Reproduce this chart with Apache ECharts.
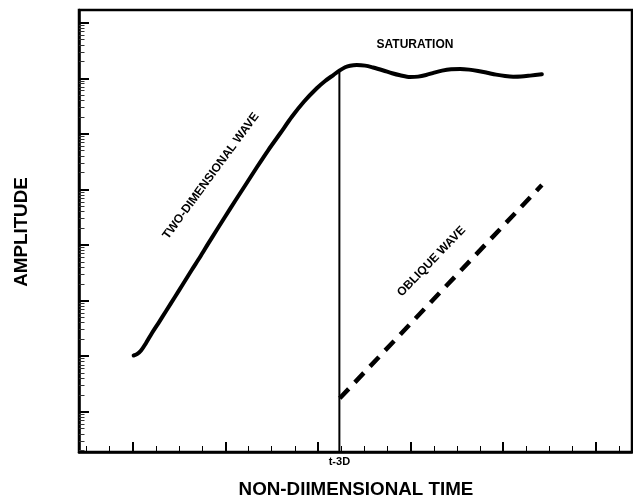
<!DOCTYPE html>
<html>
<head>
<meta charset="utf-8">
<script src="https://cdn.jsdelivr.net/npm/echarts@6/dist/echarts.min.js"></script>
<style>
  html, body { margin: 0; padding: 0; background: #fff; }
  #chart { width: 633px; height: 500px; }
</style>
</head>
<body>
<div id="chart"></div>
<script>
// two-dimensional wave, amplitude in decades (log10)
const twoDimTime = [0.01, 0.046, 0.090, 0.144, 0.208, 0.276, 0.360, 0.457, 0.543, 0.637, 0.727, 0.813,
  0.905, 0.997, 1.105, 1.224, 1.342, 1.464, 1.591, 1.720, 1.850, 1.987, 2.077, 2.166, 2.231, 2.293,
  2.347, 2.419, 2.509, 2.595, 2.706, 2.800, 2.886, 2.994, 3.081, 3.167, 3.254, 3.340, 3.437, 3.535,
  3.632, 3.729, 3.826, 3.923, 4.020, 4.107, 4.193, 4.290, 4.417];
const twoDimLogAmp = [1.012, 1.035, 1.102, 1.237, 1.416, 1.591, 1.812, 2.070, 2.298, 2.550, 2.784, 3.020,
  3.265, 3.510, 3.792, 4.098, 4.404, 4.710, 5.007, 5.313, 5.583, 5.821, 5.952, 6.060, 6.138, 6.199,
  6.228, 6.240, 6.229, 6.195, 6.141, 6.091, 6.055, 6.024, 6.031, 6.060, 6.103, 6.139, 6.163, 6.168,
  6.157, 6.132, 6.100, 6.067, 6.042, 6.030, 6.033, 6.049, 6.073];

// oblique wave (dashed)
const obliqueTime = [2.235, 4.417];
const obliqueLogAmp = [0.241, 4.08];

// saturation marker t-3D
const markerTime = 2.231;
const markerTop = 6.138;
const markerLabel = 't-3D';

// axis ranges and ticks
const timeMin = -0.58;
const timeMax = 5.39;
const ampMin = -0.725;
const ampMax = 7.23;
const timeMajorTicks = [0, 1, 2, 3, 4, 5];
const timeMinorTicks = [-0.5, -0.25, 0.25, 0.5, 0.75, 1.25, 1.5, 1.75, 2.25, 2.5, 2.75,
  3.25, 3.5, 3.75, 4.25, 4.5, 4.75, 5.25];
const ampDecades = [0, 1, 2, 3, 4, 5, 6, 7];

const ampMinorTicks = [];
for (let d = -1; d <= 7; d++) {
  for (let m = 2; m <= 9; m++) {
    const v = d + Math.log10(m);
    if (v > ampMin && v < ampMax) ampMinorTicks.push(v);
  }
}

const FONT = '"Liberation Sans", Arial, Helvetica, sans-serif';

const chart = echarts.init(document.getElementById('chart'), null, { renderer: 'canvas' });

const baseX = {
  type: 'value',
  min: timeMin,
  max: timeMax,
  position: 'bottom',
  splitLine: { show: false },
};
const baseY = {
  type: 'value',
  min: ampMin,
  max: ampMax,
  position: 'left',
  splitLine: { show: false },
};

const option = {
  animation: false,
  backgroundColor: '#fff',
  grid: {
    left: 79,
    right: 1,
    top: 10,
    bottom: 48,
    show: true,
    borderColor: '#000',
    borderWidth: 2.5,
  },
  xAxis: [
    Object.assign({}, baseX, {
      axisLine: { show: true, onZero: false, lineStyle: { color: '#000', width: 2.5 } },
      axisTick: { show: true, inside: true, length: 10, customValues: timeMajorTicks, lineStyle: { color: '#000', width: 2 } },
      axisLabel: {
        show: true,
        customValues: [markerTime],
        formatter: () => markerLabel,
        margin: 4,
        color: '#000',
        fontSize: 11,
        fontWeight: 'bold',
        fontFamily: FONT,
      },
    }),
    Object.assign({}, baseX, {
      axisLine: { show: false, onZero: false },
      axisTick: { show: true, inside: true, length: 6, customValues: timeMinorTicks, lineStyle: { color: '#000', width: 1 } },
      axisLabel: { show: false },
    }),
  ],
  yAxis: [
    Object.assign({}, baseY, {
      axisLine: { show: true, onZero: false, lineStyle: { color: '#000', width: 2.5 } },
      axisTick: { show: true, inside: true, length: 10, customValues: ampDecades, lineStyle: { color: '#000', width: 2 } },
      axisLabel: { show: false },
    }),
    Object.assign({}, baseY, {
      axisLine: { show: false, onZero: false },
      axisTick: { show: true, inside: true, length: 5.5, customValues: ampMinorTicks, lineStyle: { color: '#333', width: 1 } },
      axisLabel: { show: false },
    }),
  ],
  series: [
    {
      name: 'TWO-DIMENSIONAL WAVE',
      type: 'line',
      xAxisIndex: 0,
      yAxisIndex: 0,
      smooth: 0.3,
      showSymbol: false,
      data: twoDimTime.map((t, i) => [t, twoDimLogAmp[i]]),
      lineStyle: { color: '#000', width: 4, cap: 'round', join: 'round' },
    },
    {
      name: 'OBLIQUE WAVE',
      type: 'line',
      xAxisIndex: 0,
      yAxisIndex: 0,
      showSymbol: false,
      data: obliqueTime.map((t, i) => [t, obliqueLogAmp[i]]),
      lineStyle: { color: '#000', width: 4.5, type: [13, 9] },
    },
    {
      name: markerLabel,
      type: 'line',
      xAxisIndex: 0,
      yAxisIndex: 0,
      showSymbol: false,
      data: [[markerTime, ampMin], [markerTime, markerTop]],
      lineStyle: { color: '#000', width: 2 },
    },
  ],
  graphic: [
    {
      type: 'text', x: 356, y: 490,
      style: { text: 'NON-DIIMENSIONAL TIME', font: 'bold 18.8px ' + FONT, fill: '#000', align: 'center', verticalAlign: 'middle' },
    },
    {
      type: 'text', x: 22, y: 232, rotation: Math.PI / 2,
      style: { text: 'AMPLITUDE', font: 'bold 18.8px ' + FONT, fill: '#000', align: 'center', verticalAlign: 'middle' },
    },
    {
      type: 'text', x: 415, y: 45,
      style: { text: 'SATURATION', font: 'bold 12px ' + FONT, fill: '#000', align: 'center', verticalAlign: 'middle' },
    },
    {
      type: 'text', x: 211, y: 176, rotation: 53.6 * Math.PI / 180,
      style: { text: 'TWO-DIMENSIONAL WAVE', font: 'bold 12px ' + FONT, fill: '#000', align: 'center', verticalAlign: 'middle' },
    },
    {
      type: 'text', x: 431.5, y: 261.5, rotation: 46 * Math.PI / 180,
      style: { text: 'OBLIQUE WAVE', font: 'bold 12px ' + FONT, fill: '#000', align: 'center', verticalAlign: 'middle' },
    },
  ],
};

chart.setOption(option);
window.onresize = () => chart.resize();
</script>
</body>
</html>
